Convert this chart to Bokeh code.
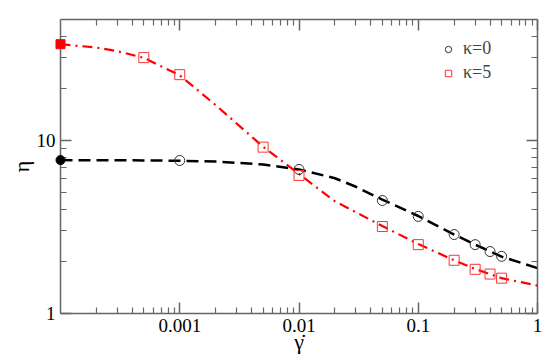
from bokeh.plotting import figure
from bokeh.models import (LogAxis, FixedTicker, Legend, LegendItem, Range1d)
from bokeh.embed import file_html
from bokeh.resources import INLINE

# ---- data ----
x_ticks = [0.001, 0.01, 0.1, 1]
x_tick_labels = ["0.001", "0.01", "0.1", "1"]
y_ticks = [1, 10]
y_tick_labels = ["1", "10"]
series_labels = ["κ=0", "κ=5"]

# fit curves
gd_fit0 = [1e-4, 2e-4, 5e-4, 1e-3, 2e-3, 5e-3, 0.01, 0.02, 0.03, 0.05, 0.1, 0.2, 0.3, 0.5, 1.0]
eta_fit0 = [7.70, 7.69, 7.67, 7.63, 7.55, 7.26, 6.80, 6.05, 5.40, 4.55, 3.66, 2.86, 2.50, 2.13, 1.83]
gd_fit5 = [1e-4, 2e-4, 3e-4, 5e-4, 1e-3, 2e-3, 5e-3, 0.01, 0.02, 0.03, 0.05, 0.1, 0.2, 0.3, 0.5, 1.0]
eta_fit5 = [36.0, 34.4, 32.8, 30.0, 23.8, 16.0, 9.2, 6.4, 4.45, 3.85, 3.2, 2.52, 2.03, 1.81, 1.60, 1.45]

# simulation points
gd0 = [0.001, 0.01, 0.05, 0.1, 0.2, 0.3, 0.4, 0.5]
eta0 = [7.66, 6.80, 4.50, 3.64, 2.86, 2.50, 2.28, 2.14]
gd5 = [0.0005, 0.001, 0.005, 0.01, 0.05, 0.1, 0.2, 0.3, 0.4, 0.5]
eta5 = [30.1, 24.0, 9.15, 6.28, 3.18, 2.50, 2.03, 1.80, 1.69, 1.60]

# zero-shear values
gd_zero = [1e-4]
eta0_zero = [7.7]
eta5_zero = [36.0]

x_minor = [m * 10.0 ** e for e in range(-4, 0) for m in range(2, 10)]
y_minor = [m * 10.0 ** e for e in range(0, 2) for m in range(2, 10) if m * 10.0 ** e < 50]

FONT = "Times New Roman"
AX = "#666666"

p = figure(x_axis_type="log", y_axis_type="log",
           x_range=Range1d(1e-4, 1.0), y_range=Range1d(1.0, 50.0),
           frame_width=477, frame_height=294,
           min_border_left=60, min_border_right=5, min_border_top=19, min_border_bottom=41,
           output_backend="svg", toolbar_location=None,
           x_axis_label="γ̇", y_axis_label="η")
p.grid.visible = False
p.outline_line_color = None
p.background_fill_color = "white"
p.border_fill_color = "white"

def style_axis(ax, ticks, minor, labels, show_labels=True):
    ax.ticker = FixedTicker(ticks=ticks, minor_ticks=minor)
    if show_labels:
        ax.major_label_overrides = {t: l for t, l in zip(ticks, labels)}
    else:
        ax.major_label_overrides = {t: "" for t in ticks}
    ax.axis_line_color = AX
    ax.axis_line_width = 1.5
    ax.major_tick_line_color = AX
    ax.minor_tick_line_color = AX
    ax.major_tick_line_width = 1.5
    ax.minor_tick_line_width = 1.2
    ax.major_tick_in = 11
    ax.major_tick_out = 0
    ax.minor_tick_in = 6
    ax.minor_tick_out = 0
    ax.major_label_text_font = FONT
    ax.major_label_text_font_size = "19px"
    ax.major_label_text_color = "black"
    ax.major_label_standoff = 5 if show_labels else 0
    ax.axis_label_text_font = FONT
    ax.axis_label_text_font_style = "normal"
    ax.axis_label_text_font_size = "22px"
    ax.axis_label_text_color = "black"

style_axis(p.xaxis[0], x_ticks, x_minor, x_tick_labels)
style_axis(p.yaxis[0], y_ticks, y_minor, y_tick_labels)
p.xaxis[0].axis_label_standoff = -6
p.yaxis[0].axis_label_standoff = 0

top = LogAxis()
style_axis(top, x_ticks, x_minor, x_tick_labels, show_labels=False)
right = LogAxis()
style_axis(right, y_ticks, y_minor, y_tick_labels, show_labels=False)
p.add_layout(top, "above")
p.add_layout(right, "right")

# fits
p.line(gd_fit0, eta_fit0, line_color="black", line_width=2.5, line_dash="12 6")
p.line(gd_fit5, eta_fit5, line_color="#ff0000", line_width=2.2, line_dash="10 5 2 5")

# data
r0 = p.scatter(gd0, eta0, marker="circle", size=10, fill_color=None,
               line_color="#333333", line_width=1)
r5 = p.scatter(gd5, eta5, marker="square", size=10, fill_color=None,
               line_color="#ff3333", line_width=1)
p.scatter(gd_zero, eta0_zero, marker="circle", size=9, fill_color="black",
          line_color="black", level="overlay")
p.scatter(gd_zero, eta5_zero, marker="square", size=9, fill_color="#ff0000",
          line_color="#ff0000", level="overlay")

for rend, lab, vy in zip([r0, r5], series_labels, [254, 230]):
    lg = Legend(items=[LegendItem(label=lab, renderers=[rend])],
                location=(380, vy), border_line_color=None,
                background_fill_alpha=0, padding=0, margin=0, spacing=0,
                glyph_width=16, glyph_height=18, label_height=18,
                label_standoff=7, label_text_font=FONT,
                label_text_font_size="18px")
    p.add_layout(lg, "center")

open("out.html", "w").write(file_html(p, INLINE))
